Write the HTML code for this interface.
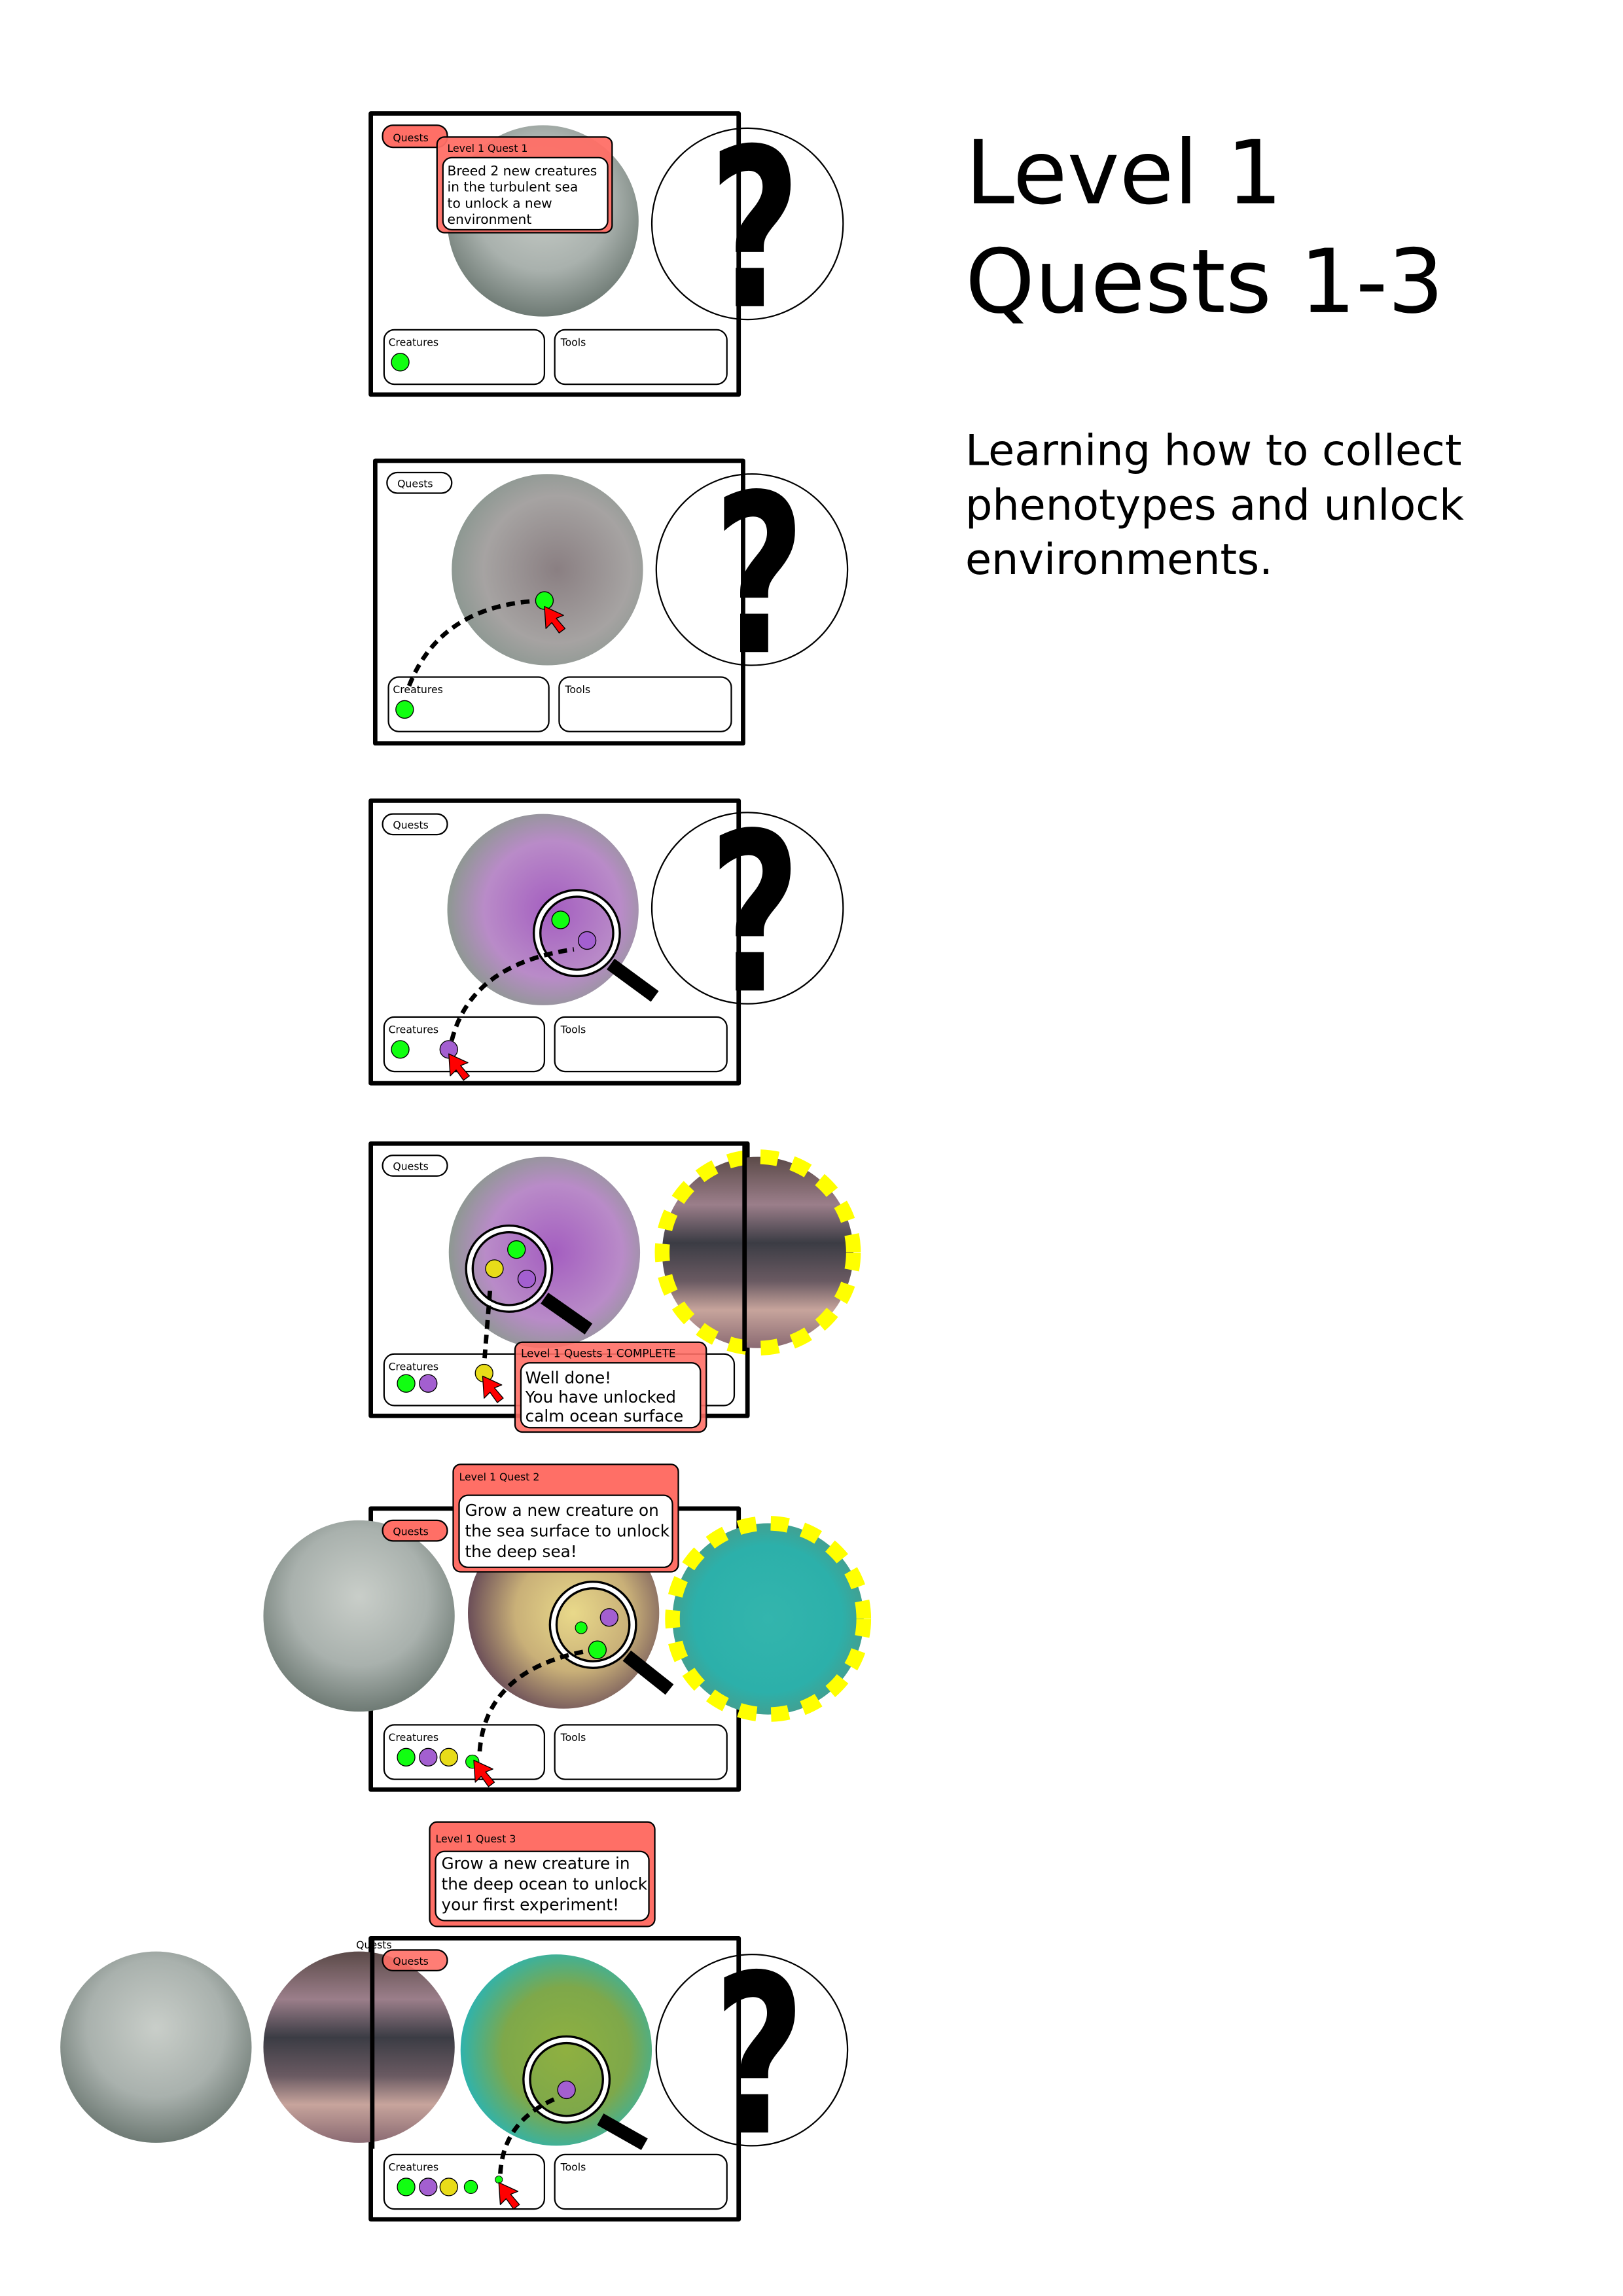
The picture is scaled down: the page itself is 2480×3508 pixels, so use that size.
<!DOCTYPE html>
<html><head><meta charset="utf-8"><style>html,body{margin:0;padding:0;background:#fff}svg{display:block}</style></head>
<body>
<svg width="2480" height="3508" viewBox="0 0 1103 1560" xmlns="http://www.w3.org/2000/svg" font-family="DejaVu Sans, Liberation Sans, sans-serif">
<defs>
<radialGradient id="sea" cx="50%" cy="40%" r="60%"><stop offset="0" stop-color="#c9cec9"/><stop offset="0.6" stop-color="#a9b1ad"/><stop offset="1" stop-color="#6e7a74"/></radialGradient>
<radialGradient id="purp" cx="55%" cy="50%" r="55%"><stop offset="0" stop-color="#a45ec0"/><stop offset="0.65" stop-color="#b98bc8"/><stop offset="1" stop-color="#8e9892"/></radialGradient>
<radialGradient id="gray2" cx="55%" cy="50%" r="55%"><stop offset="0" stop-color="#8a7f82"/><stop offset="0.7" stop-color="#a6a3a2"/><stop offset="1" stop-color="#8d9892"/></radialGradient>
<linearGradient id="beach" x1="0" y1="0" x2="0" y2="1"><stop offset="0" stop-color="#5b4a48"/><stop offset="0.25" stop-color="#9b7e8a"/><stop offset="0.45" stop-color="#3b3c44"/><stop offset="0.65" stop-color="#6a5a62"/><stop offset="0.8" stop-color="#c7a49c"/><stop offset="1" stop-color="#8a6a72"/></linearGradient>
<radialGradient id="beachY" cx="55%" cy="50%" r="55%"><stop offset="0" stop-color="#e9d98a"/><stop offset="0.55" stop-color="#c9b078"/><stop offset="1" stop-color="#6b4e58"/></radialGradient>
<radialGradient id="teal" cx="50%" cy="50%" r="55%"><stop offset="0" stop-color="#33b5ad"/><stop offset="0.7" stop-color="#2cb0aa"/><stop offset="1" stop-color="#4a9a88"/></radialGradient>
<radialGradient id="tealG" cx="55%" cy="50%" r="55%"><stop offset="0" stop-color="#8fb040"/><stop offset="0.6" stop-color="#7ea84a"/><stop offset="1" stop-color="#2fb3ac"/></radialGradient>
<g id="cur"><polygon points="0,0 13,6 8,8 14,15 10,18 5,11 1,15" fill="#f00" stroke="#000" stroke-width="0.6"/></g>
<g id="q"><circle cx="0" cy="0" r="65" fill="none" stroke="#000" stroke-width="1"/><text x="0" y="56" font-size="150" font-weight="bold" text-anchor="middle" fill="#000" transform="translate(5,0) scale(0.72,1)">?</text></g>
</defs>

<!-- Title -->
<text x="656" y="138" font-size="60">Level 1</text>
<text x="656" y="212" font-size="60">Quests 1-3</text>
<text x="656" y="316" font-size="29">Learning how to collect</text>
<text x="656" y="353" font-size="29">phenotypes and unlock</text>
<text x="656" y="390" font-size="29">environments.</text>

<g stroke-linejoin="round">
<!-- Panel 1 -->
<rect x="252" y="77" width="250" height="191" fill="#fff" stroke="#000" stroke-width="3"/>
<circle cx="369" cy="150" r="65" fill="url(#sea)"/>
<use href="#q" x="508" y="152"/>
<rect x="260" y="85" width="44" height="15" rx="7" fill="#ff6f66" stroke="#000" stroke-width="1"/>
<text x="267" y="96" font-size="7">Quests</text>
<rect x="297" y="93" width="119" height="65" rx="5" fill="#ff6f66" fill-opacity="0.95" stroke="#000" stroke-width="1"/>
<text x="304" y="103" font-size="7">Level 1 Quest 1</text>
<rect x="301" y="107" width="112" height="49" rx="6" fill="#fff" stroke="#000" stroke-width="1"/>
<text font-size="9"><tspan x="304" y="119">Breed 2 new creatures</tspan><tspan x="304" y="130">in the turbulent sea</tspan><tspan x="304" y="141">to unlock a new</tspan><tspan x="304" y="152">environment</tspan></text>
<rect x="261" y="224" width="109" height="37" rx="7" fill="#fff" stroke="#000"/>
<text x="264" y="235" font-size="7">Creatures</text>
<rect x="377" y="224" width="117" height="37" rx="7" fill="#fff" stroke="#000"/>
<text x="381" y="235" font-size="7">Tools</text>
<circle cx="272" cy="246" r="6" fill="#1f1" stroke="#000" stroke-width="0.6"/>

<!-- Panel 2 -->
<rect x="255" y="313" width="250" height="192" fill="#fff" stroke="#000" stroke-width="3"/>
<circle cx="372" cy="387" r="65" fill="url(#gray2)"/>
<use href="#q" x="511" y="387"/>
<rect x="263" y="321" width="44" height="14" rx="7" fill="#fff" stroke="#000"/>
<text x="270" y="331" font-size="7">Quests</text>
<rect x="264" y="460" width="109" height="37" rx="7" fill="#fff" stroke="#000"/>
<text x="267" y="471" font-size="7">Creatures</text>
<rect x="380" y="460" width="117" height="37" rx="7" fill="#fff" stroke="#000"/>
<text x="384" y="471" font-size="7">Tools</text>
<circle cx="275" cy="482" r="6" fill="#1f1" stroke="#000" stroke-width="0.6"/>
<path d="M278,466 Q300,410 370,408" fill="none" stroke="#000" stroke-width="3" stroke-dasharray="6,4"/>
<circle cx="370" cy="408" r="6" fill="#1f1" stroke="#000" stroke-width="0.6"/>
<use href="#cur" x="370" y="412"/>

<!-- Panel 3 -->
<rect x="252" y="544" width="250" height="192" fill="#fff" stroke="#000" stroke-width="3"/>
<circle cx="369" cy="618" r="65" fill="url(#purp)"/>
<use href="#q" x="508" y="617"/>
<line x1="415" y1="655" x2="445" y2="677" stroke="#000" stroke-width="9"/>
<circle cx="392" cy="634" r="27" fill="none" stroke="#000" stroke-width="6"/>
<circle cx="392" cy="634" r="27" fill="none" stroke="#fff" stroke-width="3"/>
<circle cx="381" cy="625" r="6" fill="#1f1" stroke="#000" stroke-width="0.6"/>
<circle cx="399" cy="639" r="6" fill="#a35fd0" stroke="#000" stroke-width="0.6"/>
<rect x="260" y="553" width="44" height="14" rx="7" fill="#fff" stroke="#000"/>
<text x="267" y="563" font-size="7">Quests</text>
<rect x="261" y="691" width="109" height="37" rx="7" fill="#fff" stroke="#000"/>
<text x="264" y="702" font-size="7">Creatures</text>
<rect x="377" y="691" width="117" height="37" rx="7" fill="#fff" stroke="#000"/>
<text x="381" y="702" font-size="7">Tools</text>
<circle cx="272" cy="713" r="6" fill="#1f1" stroke="#000" stroke-width="0.6"/>
<path d="M307,707 Q320,655 390,645" fill="none" stroke="#000" stroke-width="3" stroke-dasharray="6,4"/>
<circle cx="305" cy="713" r="6" fill="#a35fd0" stroke="#000" stroke-width="0.6"/>
<use href="#cur" x="305" y="716"/>

<!-- Panel 4 -->
<rect x="252" y="777" width="256" height="185" fill="#fff" stroke="#000" stroke-width="3"/>
<circle cx="370" cy="851" r="65" fill="url(#purp)"/>
<circle cx="515" cy="851" r="65" fill="url(#beach)"/>
<circle cx="515" cy="851" r="65" fill="none" stroke="#ff0" stroke-width="10" stroke-dasharray="12,10"/>
<line x1="506" y1="777" x2="506" y2="918" stroke="#000" stroke-width="3"/>
<line x1="370" y1="882" x2="400" y2="903" stroke="#000" stroke-width="9"/>
<circle cx="346" cy="862" r="27" fill="none" stroke="#000" stroke-width="6"/>
<circle cx="346" cy="862" r="27" fill="none" stroke="#fff" stroke-width="3"/>
<circle cx="351" cy="849" r="6" fill="#1f1" stroke="#000" stroke-width="0.6"/>
<circle cx="336" cy="862" r="6" fill="#e8dc19" stroke="#000" stroke-width="0.6"/>
<circle cx="358" cy="869" r="6" fill="#a35fd0" stroke="#000" stroke-width="0.6"/>
<rect x="260" y="785" width="44" height="14" rx="7" fill="#fff" stroke="#000"/>
<text x="267" y="795" font-size="7">Quests</text>
<rect x="261" y="920" width="238" height="35" rx="7" fill="#fff" stroke="#000"/>
<text x="264" y="931" font-size="7">Creatures</text>
<circle cx="276" cy="940" r="6" fill="#1f1" stroke="#000" stroke-width="0.6"/>
<circle cx="291" cy="940" r="6" fill="#a35fd0" stroke="#000" stroke-width="0.6"/>
<line x1="333" y1="877" x2="329" y2="927" stroke="#000" stroke-width="3" stroke-dasharray="6,4"/>
<circle cx="329" cy="933" r="6" fill="#e8dc19" stroke="#000" stroke-width="0.6"/>
<use href="#cur" x="328" y="935"/>
<rect x="350" y="912" width="130" height="61" rx="5" fill="#ff6f66" fill-opacity="0.9" stroke="#000"/>
<text x="354" y="922" font-size="7.5">Level 1 Quests 1 COMPLETE</text>
<rect x="354" y="926" width="122" height="44" rx="6" fill="#fff" stroke="#000"/>
<text font-size="11"><tspan x="357" y="940">Well done!</tspan><tspan x="357" y="953">You have unlocked</tspan><tspan x="357" y="966">calm ocean surface</tspan></text>

<!-- Panel 5 -->
<rect x="252" y="1025" width="250" height="191" fill="#fff" stroke="#000" stroke-width="3"/>
<circle cx="244" cy="1098" r="65" fill="url(#sea)"/>
<circle cx="383" cy="1096" r="65" fill="url(#beachY)"/>
<circle cx="522" cy="1100" r="65" fill="url(#teal)"/>
<circle cx="522" cy="1100" r="65" fill="none" stroke="#ff0" stroke-width="10" stroke-dasharray="12,10"/>
<line x1="426" y1="1125" x2="455" y2="1148" stroke="#000" stroke-width="9"/>
<circle cx="403" cy="1104" r="27" fill="none" stroke="#000" stroke-width="6"/>
<circle cx="403" cy="1104" r="27" fill="none" stroke="#fff" stroke-width="3"/>
<circle cx="414" cy="1099" r="6" fill="#a35fd0" stroke="#000" stroke-width="0.6"/>
<circle cx="406" cy="1121" r="6" fill="#1f1" stroke="#000" stroke-width="0.6"/>
<circle cx="395" cy="1106" r="4" fill="#1f1" stroke="#000" stroke-width="0.5"/>
<rect x="260" y="1033" width="44" height="14" rx="7" fill="#ff6f66" stroke="#000"/>
<text x="267" y="1043" font-size="7">Quests</text>
<rect x="308" y="995" width="153" height="73" rx="5" fill="#ff6f66" stroke="#000"/>
<text x="312" y="1006" font-size="7">Level 1 Quest 2</text>
<rect x="312" y="1016" width="145" height="49" rx="6" fill="#fff" stroke="#000"/>
<text font-size="11"><tspan x="316" y="1030">Grow a new creature on</tspan><tspan x="316" y="1044">the sea surface to unlock</tspan><tspan x="316" y="1058">the deep sea!</tspan></text>
<rect x="261" y="1172" width="109" height="37" rx="7" fill="#fff" stroke="#000"/>
<text x="264" y="1183" font-size="7">Creatures</text>
<rect x="377" y="1172" width="117" height="37" rx="7" fill="#fff" stroke="#000"/>
<text x="381" y="1183" font-size="7">Tools</text>
<circle cx="276" cy="1194" r="6" fill="#1f1" stroke="#000" stroke-width="0.6"/>
<circle cx="291" cy="1194" r="6" fill="#a35fd0" stroke="#000" stroke-width="0.6"/>
<circle cx="305" cy="1194" r="6" fill="#e8dc19" stroke="#000" stroke-width="0.6"/>
<path d="M326,1190 Q330,1135 398,1122" fill="none" stroke="#000" stroke-width="3" stroke-dasharray="6,4"/>
<circle cx="321" cy="1197" r="4.5" fill="#1f1" stroke="#000" stroke-width="0.5"/>
<use href="#cur" x="322" y="1196"/>

<!-- Panel 6 -->
<rect x="292" y="1238" width="153" height="71" rx="5" fill="#ff6f66" stroke="#000"/>
<text x="296" y="1252" font-size="7">Level 1 Quest 3</text>
<rect x="296" y="1258" width="145" height="47" rx="6" fill="#fff" stroke="#000"/>
<text font-size="11"><tspan x="300" y="1270">Grow a new creature in</tspan><tspan x="300" y="1284">the deep ocean to unlock</tspan><tspan x="300" y="1298">your first experiment!</tspan></text>
<rect x="252" y="1317" width="250" height="191" fill="#fff" stroke="#000" stroke-width="3"/>
<circle cx="106" cy="1391" r="65" fill="url(#sea)"/>
<circle cx="244" cy="1391" r="65" fill="url(#beach)"/>
<line x1="253" y1="1317" x2="253" y2="1460" stroke="#000" stroke-width="3"/>
<circle cx="378" cy="1393" r="65" fill="url(#tealG)"/>
<use href="#q" x="511" y="1393"/>
<line x1="408" y1="1440" x2="438" y2="1457" stroke="#000" stroke-width="9"/>
<circle cx="385" cy="1413" r="27" fill="none" stroke="#000" stroke-width="6"/>
<circle cx="385" cy="1413" r="27" fill="none" stroke="#fff" stroke-width="3"/>
<circle cx="385" cy="1420" r="6" fill="#a35fd0" stroke="#000" stroke-width="0.6"/>
<text x="242" y="1324" font-size="7">Quests</text>
<rect x="260" y="1325" width="44" height="14" rx="7" fill="#ff6f66" fill-opacity="0.9" stroke="#000"/>
<text x="267" y="1335" font-size="7">Quests</text>
<rect x="261" y="1464" width="109" height="37" rx="7" fill="#fff" stroke="#000"/>
<text x="264" y="1475" font-size="7">Creatures</text>
<rect x="377" y="1464" width="117" height="37" rx="7" fill="#fff" stroke="#000"/>
<text x="381" y="1475" font-size="7">Tools</text>
<circle cx="276" cy="1486" r="6" fill="#1f1" stroke="#000" stroke-width="0.6"/>
<circle cx="291" cy="1486" r="6" fill="#a35fd0" stroke="#000" stroke-width="0.6"/>
<circle cx="305" cy="1486" r="6" fill="#e8dc19" stroke="#000" stroke-width="0.6"/>
<circle cx="320" cy="1486" r="4.5" fill="#1f1" stroke="#000" stroke-width="0.5"/>
<path d="M340,1477 Q342,1440 380,1425" fill="none" stroke="#000" stroke-width="3" stroke-dasharray="6,4"/>
<circle cx="339" cy="1481" r="2.5" fill="#1f1" stroke="#000" stroke-width="0.4"/>
<use href="#cur" x="339" y="1483"/>
</g>
</svg>
</body></html>
